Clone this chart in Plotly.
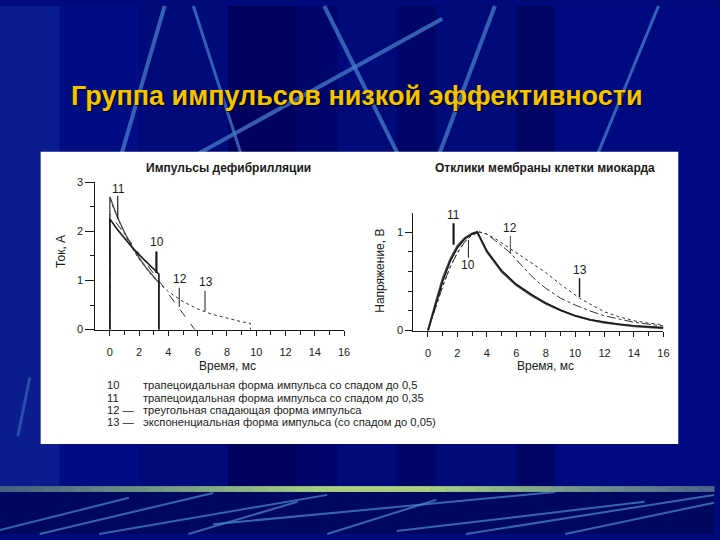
import plotly.graph_objects as go

W, H = 720, 540

# ---------------- data ----------------
# Left panel: defibrillation pulses (current, A vs time, ms)
p10_t = [0, 0, 0.5, 1.0, 1.5, 2.0, 2.5, 3.0, 3.35, 3.35]
p10_i = [0, 2.25, 2.04, 1.85, 1.68, 1.52, 1.38, 1.24, 1.13, 0]
p11_t = [0, 0, 0.5, 1.0, 1.5, 2.0, 2.5, 3.0, 3.35, 3.35]
p11_i = [0, 2.70, 2.30, 1.98, 1.70, 1.46, 1.25, 1.06, 0.95, 0]
p12_t = [0, 0, 5.8]
p12_i = [0, 2.35, 0]
p13_t = [0, 0.5, 1, 1.5, 2, 3, 4, 5, 6, 7, 8, 9, 9.6, 9.6]
p13_i = [2.65, 2.28, 1.95, 1.67, 1.43, 1.05, 0.77, 0.57, 0.42, 0.31, 0.23, 0.16, 0.13, 0]

# Right panel: myocardial cell membrane responses (voltage vs time, ms)
r10_t = [0, 0.25, 0.5, 1, 1.5, 2, 2.5, 3, 3.35, 4, 5, 6, 7, 8, 9, 10, 11, 12, 13, 14, 15, 16]
r10_v = [0, 0.13, 0.25, 0.50, 0.70, 0.84, 0.93, 0.98, 1.0, 0.81, 0.61, 0.47, 0.37, 0.28, 0.21, 0.15, 0.11, 0.085, 0.065, 0.05, 0.038, 0.03]
r11_t = [0, 0.25, 0.5, 1, 1.5, 2, 2.5, 3, 3.35, 4, 5, 6, 7, 8, 9, 10, 11, 12, 13, 14, 15, 16]
r11_v = [0, 0.14, 0.27, 0.53, 0.72, 0.86, 0.94, 0.985, 1.0, 0.80, 0.60, 0.46, 0.36, 0.275, 0.205, 0.15, 0.11, 0.08, 0.06, 0.045, 0.035, 0.025]
r12_t = [0, 0.5, 1, 1.5, 2, 2.5, 3, 3.5, 4, 4.6, 5, 5.6, 6, 6.6, 7, 7.5, 8, 8.6, 9, 10, 11, 12, 13, 14, 15, 16]
r12_v = [0, 0.22, 0.45, 0.64, 0.79, 0.90, 0.97, 1.0, 0.98, 0.91, 0.86, 0.79, 0.72, 0.62, 0.56, 0.49, 0.43, 0.37, 0.33, 0.26, 0.20, 0.15, 0.115, 0.085, 0.065, 0.048]
r13_t = [0, 0.5, 1, 1.5, 2, 2.5, 3, 3.5, 4, 4.6, 5, 5.6, 6, 6.8, 7, 8, 9, 10, 10.3, 11, 12, 13, 14, 15, 16]
r13_v = [0, 0.22, 0.45, 0.64, 0.79, 0.90, 0.97, 1.0, 0.98, 0.93, 0.89, 0.83, 0.79, 0.71, 0.69, 0.59, 0.47, 0.36, 0.33, 0.27, 0.19, 0.14, 0.10, 0.075, 0.06]

x_ticks = [0, 2, 4, 6, 8, 10, 12, 14, 16]
left_y_ticks = [0, 1, 2, 3]
right_y_ticks = [0, 1]

slide_title = "Группа импульсов низкой эффективности"
left_title = "Импульсы дефибрилляции"
right_title = "Отклики мембраны клетки миокарда"
left_ytitle = "Ток, А"
right_ytitle = "Напряжение, В"
xtitle = "Время, мс"

legend_nums = ["10", "11", "12 —", "13 —"]
legend_texts = [
    "трапецоидальная форма импульса со спадом до 0,5",
    "трапецоидальная форма импульса со спадом до 0,35",
    "треугольная спадающая форма импульса",
    "экспоненциальная форма импульса (со спадом до 0,05)",
]

# curve labels: (text, x, y, pointer x, pointer y0, pointer y1, pointer width)
left_labels = [("11", 0.62, 2.85, 0.54, 2.72, 2.25, 1.2),
               ("10", 3.25, 1.78, 3.18, 1.59, 1.15, 2.2),
               ("12", 4.82, 1.02, 4.74, 0.85, 0.46, 1.0),
               ("13", 6.55, 0.96, 6.5, 0.79, 0.38, 1.0)]
right_labels = [("11", 1.74, 1.17, 1.74, 1.09, 0.87, 2.2),
                ("10", 2.75, 0.67, 2.75, 0.92, 0.74, 1.0),
                ("12", 5.6, 1.04, 5.6, 0.96, 0.78, 0.8),
                ("13", 10.3, 0.61, 10.3, 0.53, 0.34, 1.5)]

# ---------------- helpers ----------------
def X(px):
    return px / W

def Y(py):
    return 1 - py / H

FONT = "Liberation Sans, Arial, sans-serif"
INK = "#1a1a1a"

fig = go.Figure()

# ---------------- background decoration ----------------
shapes = []
def rect(x0, y0, x1, y1, color, layer="below"):
    shapes.append(dict(type="rect", xref="paper", yref="paper",
                       x0=X(x0), x1=X(x1), y0=Y(y1), y1=Y(y0),
                       fillcolor=color, line=dict(width=0), layer=layer))

def seg(x0, y0, x1, y1, color, width, layer="below"):
    shapes.append(dict(type="line", xref="paper", yref="paper",
                       x0=X(x0), y0=Y(y0), x1=X(x1), y1=Y(y1),
                       line=dict(color=color, width=width), layer=layer))

# vertical tonal bands
rect(0, 0, 60, 540, "#0a1c8e")
rect(60, 0, 140, 540, "#020d84")
rect(230, 0, 300, 540, "#00005e")
rect(300, 0, 340, 540, "#00056c")
rect(400, 0, 440, 540, "#000668")
rect(520, 0, 560, 540, "#000566")
rect(560, 0, 720, 540, "#000a80")
rect(0, 497, 720, 540, "#00075e")

# light streaks (top)
LB = "rgba(70,125,200,0.75)"
seg(166, 0, 100, 230, LB, 4)
seg(195, 0, 268, 230, LB, 3)
seg(446, 13, 95, 210, LB, 4)
seg(327, 0, 425, 200, LB, 4)
seg(499, 0, 425, 200, LB, 4)
seg(664, 0, 583, 200, LB, 3)
seg(30, 380, 18, 440, "rgba(70,125,200,0.5)", 3)

# light streaks (bottom)
LB2 = "rgba(80,140,210,0.7)"
seg(0, 536, 130, 503, LB2, 2)
seg(40, 540, 215, 498, LB2, 2)
seg(100, 540, 330, 500, LB2, 2)
seg(190, 540, 300, 507, LB2, 2)
seg(215, 530, 560, 497, LB2, 2)
seg(330, 540, 440, 505, LB2, 2)
seg(400, 537, 650, 507, LB2, 2)
seg(470, 540, 720, 500, LB2, 2)
seg(570, 540, 720, 508, LB2, 2)

# horizontal green bar with a soft gradient
bar_stops = [(0, (70, 95, 130)), (150, (110, 150, 130)), (330, (170, 210, 130)),
             (430, (170, 210, 130)), (600, (110, 145, 140)), (720, (80, 100, 140))]
n = 48
for k in range(n):
    xa = 720 * k / n
    xb = 720 * (k + 1) / n
    xm = (xa + xb) / 2
    for j in range(len(bar_stops) - 1):
        if bar_stops[j][0] <= xm <= bar_stops[j + 1][0]:
            a, ca = bar_stops[j]
            b, cb = bar_stops[j + 1]
            f = (xm - a) / (b - a)
            c = tuple(int(ca[m] + (cb[m] - ca[m]) * f) for m in range(3))
            break
    rect(xa, 491, xb + 0.5, 497, "rgb(%d,%d,%d)" % c)

# white panel
rect(41, 149, 684, 448, "#ffffff")

# ---------------- traces ----------------
def add(xs, ys, ax, width, dash="solid", color=INK):
    fig.add_trace(go.Scatter(x=xs, y=ys, mode="lines", xaxis=ax[0], yaxis=ax[1],
                             line=dict(color=color, width=width, dash=dash),
                             showlegend=False, hoverinfo="skip"))

L = ("x", "y")
R = ("x2", "y2")
add(p13_t, p13_i, L, 1.0, "dot", "#333333")
add(p12_t, p12_i, L, 1.0, "dash", "#333333")
add(p11_t, p11_i, L, 1.3, "solid", "#444444")
add(p10_t, p10_i, L, 1.6, "solid", INK)

add(r13_t, r13_v, R, 1.0, "dot", "#333333")
add(r12_t, r12_v, R, 1.0, "dashdot", "#333333")
add(r11_t, r11_v, R, 2.0, "solid", "#555555")
add(r10_t, r10_v, R, 1.6, "solid", INK)

# ---------------- annotations ----------------
ann = []
def note(text, px, py, size, weight="normal", xanchor="center", angle=0, color=INK,
         family=FONT, shadow=None):
    f = dict(family=family, size=size, color=color, weight=weight)
    if shadow:
        f["shadow"] = shadow
    ann.append(dict(text=text, xref="paper", yref="paper", x=X(px), y=Y(py),
                    showarrow=False, xanchor=xanchor, yanchor="middle",
                    textangle=angle, font=f, borderpad=0))

note(slide_title, 360, 92, 27, weight="bold", color="#f5c400",
     shadow="1px 1px 1px #000000")
note(left_title, 230, 166, 12, weight="bold")
note(right_title, 550, 166, 12, weight="bold")
note(left_ytitle, 62, 251, 12, angle=-90)
note(right_ytitle, 383, 271, 12, angle=-90)
note(xtitle, 229, 368, 12)
note(xtitle, 550, 368, 12)

rows_y = [388, 400.5, 413, 425.5]
for num, txt, ry in zip(legend_nums, legend_texts, rows_y):
    note(num, 107, ry, 11.2, xanchor="left")
    note(txt, 143, ry, 11.2, xanchor="left")

for labels, (ax, ay) in ((left_labels, ("x", "y")), (right_labels, ("x2", "y2"))):
    for txt, tx, ty, lx, ly0, ly1, lw in labels:
        ann.append(dict(text=txt, xref=ax, yref=ay, x=tx, y=ty, showarrow=False,
                        xanchor="center", yanchor="middle",
                        font=dict(family=FONT, size=12, color=INK)))
        shapes.append(dict(type="line", xref=ax, yref=ay, x0=lx, x1=lx, y0=ly0, y1=ly1,
                           line=dict(color=INK, width=lw)))

# ---------------- axes ----------------
axis_common = dict(showgrid=False, zeroline=False, showline=True, linecolor=INK,
                   linewidth=1, ticks="outside", tickcolor=INK,
                   tickfont=dict(family=FONT, size=11, color="#222222"))

fig.update_layout(
    width=W, height=H, autosize=False,
    margin=dict(l=0, r=0, t=0, b=0, pad=0),
    paper_bgcolor="#000a7a", plot_bgcolor="rgba(0,0,0,0)",
    shapes=shapes, annotations=ann, showlegend=False,
    xaxis=dict(domain=[X(96), X(347)], range=[-1, 16], anchor="y",
               tickvals=x_ticks, ticklen=5, ticklabelstandoff=7,
               minor=dict(ticks="outside", ticklen=4, tickvals=[1, 3, 5, 7, 9, 11, 13, 15],
                          tickcolor=INK),
               **axis_common),
    yaxis=dict(domain=[Y(331), Y(180)], range=[0, 3], anchor="x",
               tickvals=left_y_ticks, ticklen=9,
               minor=dict(ticks="outside", ticklen=4, tickvals=[0.5, 1.5, 2.5], tickcolor=INK),
               **axis_common),
    xaxis2=dict(domain=[X(416.7), X(669)], range=[-1, 16], anchor="y2",
                tickvals=x_ticks, ticklen=5, ticklabelstandoff=7,
                minor=dict(ticks="outside", ticklen=4, tickvals=[1, 3, 5, 7, 9, 11, 13, 15],
                           tickcolor=INK),
                **axis_common),
    yaxis2=dict(domain=[Y(332), Y(212)], range=[0, 1.19], anchor="x2",
                tickvals=right_y_ticks, ticklen=7,
                minor=dict(ticks="outside", ticklen=4, tickvals=[0.2, 0.4, 0.6, 0.8], tickcolor=INK),
                **axis_common),
)

fig.write_html("out.html", config={"displayModeBar": False},
               post_script="document.body.style.margin='0';document.body.style.overflow='hidden';"
                           "document.documentElement.style.overflow='hidden';")
